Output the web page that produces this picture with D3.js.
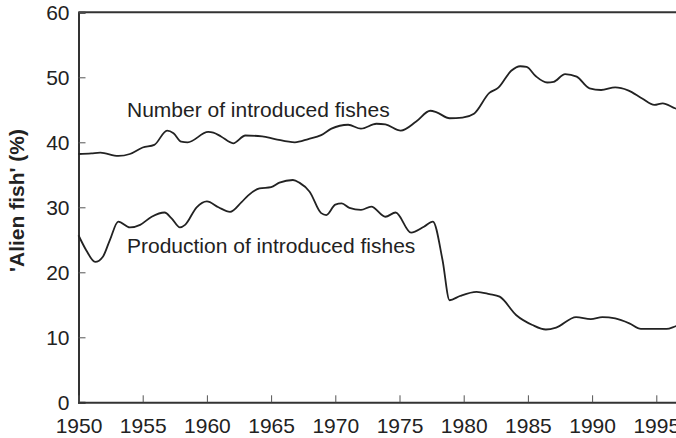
<!DOCTYPE html>
<html>
<head>
<meta charset="utf-8">
<script src="https://cdn.jsdelivr.net/npm/d3@7"></script>
<style>
html,body{margin:0;padding:0;background:#fff;overflow:hidden;}
svg{display:block;font-family:"Liberation Sans",Arial,sans-serif;}
</style>
</head>
<body>
<svg id="chart" width="676" height="438"></svg>
<script>
// ---- data ----
const numberYears = [1950.0,1951.0,1951.7,1953.1,1954.0,1955.0,1955.9,1956.9,1957.4,1958.0,1958.5,1960.1,1960.5,1961.1,1962.05,1963.0,1964.3,1965.3,1966.85,1967.9,1968.9,1969.7,1971.0,1972.0,1973.2,1973.9,1975.1,1976.3,1977.4,1977.9,1978.9,1979.9,1980.8,1982.0,1982.7,1983.7,1984.4,1984.9,1985.6,1986.5,1987.0,1987.9,1988.8,1989.8,1990.7,1991.8,1992.8,1993.9,1994.85,1995.5,1996.5,1997.0];
const numberValues = [38.2,38.3,38.4,37.9,38.2,39.2,39.6,41.8,41.4,40.1,40.0,41.6,41.5,40.9,39.85,41.05,40.9,40.5,40.0,40.5,41.1,42.1,42.7,42.1,42.85,42.75,41.8,43.2,44.85,44.6,43.7,43.8,44.4,47.6,48.4,51.0,51.7,51.6,50.2,49.2,49.3,50.5,50.1,48.3,48.05,48.45,48.0,46.75,45.75,46.0,45.2,45.0];

const productionYears = [1950.0,1950.6,1951.3,1951.9,1952.45,1953.1,1954.0,1954.8,1955.7,1956.7,1957.25,1957.9,1958.3,1959.2,1960.0,1960.9,1961.8,1962.7,1963.2,1964.1,1965.0,1965.65,1966.7,1967.2,1968.0,1968.9,1969.3,1970.0,1970.5,1971.1,1972.0,1972.8,1973.9,1974.7,1975.9,1976.9,1977.6,1978.35,1978.9,1979.7,1981.0,1982.0,1982.8,1984.1,1985.35,1986.4,1987.2,1988.75,1989.9,1990.8,1991.8,1992.9,1993.8,1995.8,1996.5,1997.0];
const productionValues = [25.7,23.4,21.6,22.4,25.0,27.8,26.9,27.3,28.55,29.2,28.3,26.9,27.3,30.0,30.9,30.0,29.3,30.8,31.8,32.9,33.1,33.8,34.2,33.8,32.4,29.1,28.8,30.4,30.6,29.9,29.6,30.1,28.55,29.2,26.1,27.0,27.8,21.9,15.7,16.35,17.0,16.65,16.25,13.4,11.9,11.2,11.5,13.1,12.8,13.1,12.9,12.15,11.3,11.3,11.7,12.0];

const yTicks = [0,10,20,30,40,50,60];
const xTicks = [1950,1955,1960,1965,1970,1975,1980,1985,1990,1995];
const yTitle = "'Alien fish' (%)";
const numberLabel = "Number of introduced fishes";
const productionLabel = "Production of introduced fishes";

// ---- layout ----
const svg = d3.select("#chart");
const mLeft = 78.5, mTop = 12.3, mBottom = 402.3;
const x = d3.scaleLinear().domain([1950, 2000]).range([mLeft, mLeft + 50 * 12.84]);
const y = d3.scaleLinear().domain([0, 60]).range([mBottom, mTop]);
const ink = "#222";

// frame: top border
svg.append("line")
  .attr("x1", mLeft).attr("x2", x(2000))
  .attr("y1", mTop).attr("y2", mTop)
  .attr("stroke", "#333").attr("stroke-width", 2);

// y axis
const yAxis = svg.append("g")
  .attr("transform", `translate(${mLeft},0)`)
  .call(d3.axisLeft(y).tickValues(yTicks).tickSize(-7).tickPadding(9).tickFormat(d3.format("d")));
// x axis
const xAxis = svg.append("g")
  .attr("transform", `translate(0,${mBottom})`)
  .call(d3.axisBottom(x).tickValues(xTicks).tickSize(-7).tickPadding(16).tickFormat(d3.format("d")));

[yAxis, xAxis].forEach(g => {
  g.select(".domain").attr("stroke", "#333").attr("stroke-width", 2);
  g.selectAll(".tick line").attr("stroke", "#555").attr("stroke-width", 1);
  g.selectAll(".tick text").attr("fill", ink).style("font-size", "21px")
    .style("font-family", "'Liberation Sans', Arial, sans-serif");
});
xAxis.selectAll(".tick text").attr("dy", "0.72em");

// y title
svg.append("text")
  .attr("transform", "translate(24,272) rotate(-90)")
  .attr("text-anchor", "start")
  .attr("fill", ink)
  .style("font-size", "21px")
  .style("font-weight", "bold")
  .text(yTitle);

// lines
const line = d3.line().x(d => x(d[0])).y(d => y(d[1])).curve(d3.curveMonotoneX);
const numberData = numberYears.map((v, i) => [v, numberValues[i]]);
const productionData = productionYears.map((v, i) => [v, productionValues[i]]);

svg.append("path").datum(numberData)
  .attr("d", line).attr("fill", "none").attr("stroke", ink).attr("stroke-width", 1.8);
svg.append("path").datum(productionData)
  .attr("d", line).attr("fill", "none").attr("stroke", ink).attr("stroke-width", 1.8);

// series labels
svg.append("text").attr("x", 127).attr("y", 117).attr("fill", ink)
  .style("font-size", "21px").text(numberLabel);
svg.append("text").attr("x", 127).attr("y", 253).attr("fill", ink)
  .style("font-size", "21px").text(productionLabel);
</script>
</body>
</html>
